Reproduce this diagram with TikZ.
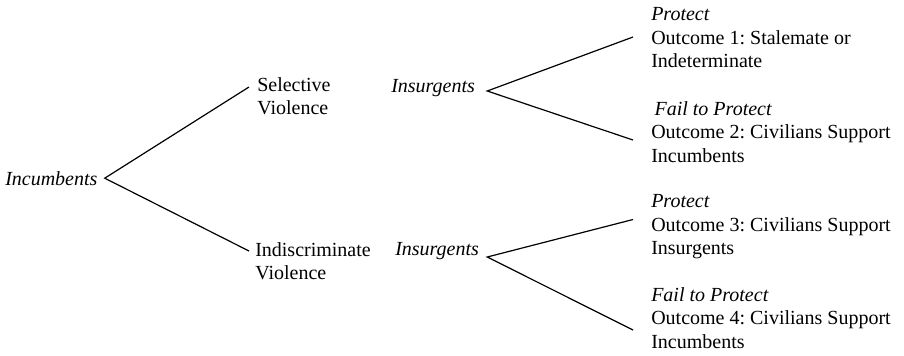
\documentclass[tikz,border=0pt]{standalone}
\usepackage{fontspec}
\setmainfont{Liberation Serif}
\usetikzlibrary{calc}
\frenchspacing

\tikzset{
  lbl/.style={inner sep=0pt, font=\fontsize{15pt}{17.5pt}\selectfont},
  blk/.style={lbl, align=left, anchor=north west},
  branch/.style={line width=0.9pt}
}

\begin{document}
\begin{tikzpicture}[x=0.75pt, y=-0.75pt]

\useasboundingbox (0,0) rectangle (904,355);

% Incumbents: first move
\node[lbl, anchor=base west] (inc) at (5, 185) {\textit{Incumbents}};
\node[blk] (sel) at (257, 77.5) {Selective\\Violence};
\node[blk] (ind) at (255, 242.5) {Indiscriminate\\Violence};
\draw[branch] ($(sel.north west)+(-8,9.5)$) -- ($(inc.east)+(7,0)$) -- ($(ind.north west)+(-6,8.5)$);

% Insurgents after selective violence
\node[lbl, anchor=base west] (ins1) at (391, 92) {\textit{Insurgents}};
\node[blk] (out1) at (651, 7.5) {\textit{Protect}\\Outcome 1: Stalemate or\\Indeterminate};
\node[blk] (out2) at (651, 101.5) {\,\textit{Fail to Protect}\\Outcome 2: Civilians Support\\Incumbents};
\draw[branch] ($(out1.north west)+(-18,29.5)$) -- ($(ins1.base east)+(12,-1)$) -- ($(out2.north west)+(-18,38.5)$);

% Insurgents after indiscriminate violence
\node[lbl, anchor=base west] (ins2) at (395, 255) {\textit{Insurgents}};
\node[blk] (out3) at (651, 194.5) {\textit{Protect}\\Outcome 3: Civilians Support\\Insurgents};
\node[blk] (out4) at (651, 287.5) {\textit{Fail to Protect}\\Outcome 4: Civilians Support\\Incumbents};
\draw[branch] ($(out3.north west)+(-18,25)$) -- ($(ins2.base east)+(8,2)$) -- ($(out4.north west)+(-18,42.5)$);

\end{tikzpicture}
\end{document}
